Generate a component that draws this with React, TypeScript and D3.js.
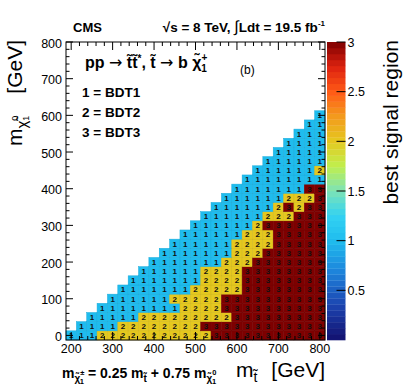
import React, { useEffect, useRef } from 'react';
import * as d3 from 'd3';

// scan grid [GeV]
const stopMasses = [
  200, 225, 250, 275, 300, 325, 350, 375, 400, 425, 450, 475, 500, 525, 550,
  575, 600, 625, 650, 675, 700, 725, 750, 775, 800,
];
const lspMasses = [
  0, 25, 50, 75, 100, 125, 150, 175, 200, 225, 250, 275, 300, 325, 350, 375,
  400, 425, 450, 475, 500, 525, 550, 575, 600,
];

// best BDT per LSP row (bottom row first); each row runs from the diagonal to m_stop = 800
const bestRegion = [
  '111 22222222222 33333333333',
  '1111 22222222 333333333333',
  '11111 222222222 333333333',
  '11111111 2222 3333333333',
  '111111 22222 3333333333',
  '1111111 22222 33333333',
  '1111111 2222 33333333',
  '111111 2222 33333333',
  '1111111 222 3333333',
  '1111111 222 333333',
  '111111 2222 33333',
  '111111 222 33333',
  '111111 2 333333',
  '111111 222 333',
  '111111 23233',
  '111111 2223',
  '1111111 33',
  '11111111',
  '111111 2',
  '111111',
  '11111',
  '1111',
  '111',
  '11',
  '1',
];

const xTicks = [200, 300, 400, 500, 600, 700, 800];
const yTicks = [0, 100, 200, 300, 400, 500, 600, 700, 800];
const zTicks = [0.5, 1, 1.5, 2, 2.5, 3];
const legendLines = ['1 = BDT1', '2 = BDT2', '3 = BDT3'];

// ROOT-like rainbow palette
const paletteStops = [0, 0.35, 0.7, 1.0, 1.25, 1.5, 1.75, 2.0, 2.25, 2.5, 2.75, 3.0];
const paletteColors = [
  '#120f6e', '#1c44b0', '#1d86dc', '#1fbcee', '#33d2f2', '#7de3b6',
  '#c0ef4e', '#e5c81f', '#f39a1d', '#ff5a16', '#dd2210', '#7e0000',
];

const FONT = "'Liberation Sans', Arial, Helvetica, sans-serif";
const ARROW = '<tspan font-family="DejaVu Sans" font-weight="normal">→</tspan>';

const App = () => {
  const ref = useRef<SVGSVGElement>(null);
  const width = 407;
  const height = 391;
  const frame = { left: 66, right: 325, top: 42, bottom: 340 };

  useEffect(() => {
    const svg = d3.select(ref.current);
    svg.selectAll('*').remove();

    const half = (stopMasses[1] - stopMasses[0]) / 2;
    const x = d3
      .scaleLinear()
      .domain([stopMasses[0] - half, stopMasses[stopMasses.length - 1] + half])
      .range([frame.left, frame.right]);
    const y = d3
      .scaleLinear()
      .domain([lspMasses[0] - half, 800])
      .range([frame.bottom, frame.top]);
    const z = d3.scaleLinear().domain([0, 3]).range([frame.bottom, frame.top]);
    const pal = d3
      .scaleLinear<string>()
      .domain(paletteStops)
      .range(paletteColors)
      .interpolate(d3.interpolateRgb)
      .clamp(true);

    svg.append('rect').attr('width', width).attr('height', height).attr('fill', '#fff');

    // cells
    const cells = bestRegion.flatMap((row, r) => {
      const s = row.replace(/ /g, '');
      const off = stopMasses.length - s.length;
      return s.split('').map((ch, k) => ({
        mStop: stopMasses[off + k],
        mLsp: lspMasses[r],
        v: +ch,
      }));
    });

    const g = svg.append('g');
    cells.forEach((d) => {
      const fill = pal(d.v);
      g.append('rect')
        .attr('x', x(d.mStop - half))
        .attr('y', y(d.mLsp + half))
        .attr('width', x(d.mStop + half) - x(d.mStop - half))
        .attr('height', y(d.mLsp - half) - y(d.mLsp + half))
        .attr('fill', fill)
        .attr('stroke', d3.color(fill)!.darker(0.25).toString())
        .attr('stroke-width', 0.5);
    });
    cells.forEach((d) => {
      g.append('text')
        .attr('x', x(d.mStop))
        .attr('y', y(d.mLsp))
        .attr('dy', '0.36em')
        .attr('text-anchor', 'middle')
        .attr('font-family', FONT)
        .attr('font-weight', 'bold')
        .attr('font-size', 8)
        .attr('fill', '#111')
        .text(d.v);
    });

    // frame and ticks
    const ax = svg.append('g').attr('stroke', '#000').attr('stroke-width', 1);
    ax.append('rect')
      .attr('x', frame.left)
      .attr('y', frame.top)
      .attr('width', frame.right - frame.left)
      .attr('height', frame.bottom - frame.top)
      .attr('fill', 'none');

    const xMinor = d3.range(200, 801, 20);
    xMinor.forEach((v) => {
      const len = v % 100 === 0 ? 8 : 4;
      const px = x(v);
      ax.append('line').attr('x1', px).attr('x2', px).attr('y1', frame.bottom).attr('y2', frame.bottom - len);
      ax.append('line').attr('x1', px).attr('x2', px).attr('y1', frame.top).attr('y2', frame.top + len);
    });
    const yMinor = d3.range(0, 801, 20);
    yMinor.forEach((v) => {
      const len = v % 100 === 0 ? 7 : 3.5;
      const py = y(v);
      ax.append('line').attr('x1', frame.left).attr('x2', frame.left + len).attr('y1', py).attr('y2', py);
      ax.append('line').attr('x1', frame.right).attr('x2', frame.right - len).attr('y1', py).attr('y2', py);
    });

    const tickText = (sel: any) =>
      sel.attr('font-family', FONT).attr('font-size', 12.5).attr('fill', '#000');

    xTicks.forEach((v) => {
      tickText(svg.append('text'))
        .attr('x', x(v))
        .attr('y', 353)
        .attr('text-anchor', 'middle')
        .text(v);
    });
    yTicks.forEach((v) => {
      tickText(svg.append('text'))
        .attr('x', 62)
        .attr('y', y(v) + 1)
        .attr('dy', '0.36em')
        .attr('text-anchor', 'end')
        .text(v);
    });

    // palette
    const nColors = 50;
    const step = 3 / nColors;
    const pg = svg.append('g');
    d3.range(nColors).forEach((i) => {
      pg.append('rect')
        .attr('x', 327)
        .attr('y', z((i + 1) * step))
        .attr('width', 18.5)
        .attr('height', z(i * step) - z((i + 1) * step) + 0.3)
        .attr('fill', pal((i + 0.5) * step));
    });
    zTicks.forEach((v) => {
      pg.append('line')
        .attr('x1', 345.5)
        .attr('x2', 336.5)
        .attr('y1', z(v))
        .attr('y2', z(v))
        .attr('stroke', '#000');
      tickText(pg.append('text'))
        .attr('x', 347.5)
        .attr('y', z(v))
        .attr('dy', '0.36em')
        .text(v);
    });

    // titles
    svg.append('text')
      .attr('transform', 'translate(22,40) rotate(-90)')
      .attr('text-anchor', 'end')
      .attr('font-family', FONT)
      .attr('font-size', 21)
      .html(
        'm<tspan font-size="15" dy="5">χ̃</tspan><tspan font-size="9" dy="-9">0</tspan><tspan font-size="9" dx="-5" dy="11">1</tspan><tspan dx="22" dy="-7">[GeV]</tspan>'
      );
    svg.append('text')
      .attr('x', frame.right)
      .attr('y', 377)
      .attr('text-anchor', 'end')
      .attr('font-family', FONT)
      .attr('font-size', 21)
      .html('m<tspan font-size="14" dy="5">t̃</tspan><tspan dx="14" dy="-5">[GeV]</tspan>');
    svg.append('text')
      .attr('transform', 'translate(398,40) rotate(-90)')
      .attr('text-anchor', 'end')
      .attr('font-family', FONT)
      .attr('font-size', 21)
      .text('best signal region');

    // header
    svg.append('text')
      .attr('x', 73)
      .attr('y', 32)
      .attr('font-family', FONT)
      .attr('font-weight', 'bold')
      .attr('font-size', 13)
      .text('CMS');
    svg.append('text')
      .attr('x', frame.right)
      .attr('y', 32)
      .attr('text-anchor', 'end')
      .attr('font-family', FONT)
      .attr('font-weight', 'bold')
      .attr('font-size', 13.5)
      .html('√s = 8 TeV, <tspan font-size="16" font-weight="normal">∫</tspan>Ldt = 19.5 fb<tspan font-size="8" dy="-6">-1</tspan>');

    // process and legend
    svg.append('text')
      .attr('x', 85)
      .attr('y', 68)
      .attr('font-family', FONT)
      .attr('font-weight', 'bold')
      .attr('font-size', 16)
      .html(
        `pp ${ARROW} t̃t̃<tspan font-size="10" dy="-6">*</tspan><tspan dy="6">, t̃ </tspan>${ARROW} b χ̃<tspan font-size="10" dy="-7">+</tspan><tspan font-size="10" dx="-6" dy="11">1</tspan>`
      );
    svg.append('text')
      .attr('x', 240)
      .attr('y', 74)
      .attr('font-family', FONT)
      .attr('font-size', 12)
      .text('(b)');
    legendLines.forEach((t, i) => {
      svg.append('text')
        .attr('x', 82)
        .attr('y', 97 + i * 20)
        .attr('font-family', FONT)
        .attr('font-weight', 'bold')
        .attr('font-size', 13.5)
        .text(t);
    });

    // mass relation
    svg.append('text')
      .attr('x', 62)
      .attr('y', 378)
      .attr('font-family', FONT)
      .attr('font-weight', 'bold')
      .attr('font-size', 14)
      .html(
        'm<tspan font-size="10" dy="4">χ̃</tspan><tspan font-size="7.5" dy="-7">±</tspan><tspan font-size="7.5" dx="-4.5" dy="9">1</tspan>' +
          '<tspan dy="-6"> = 0.25 m</tspan><tspan font-size="10" dy="4">t̃</tspan>' +
          '<tspan dy="-4"> + 0.75 m</tspan><tspan font-size="10" dy="4">χ̃</tspan><tspan font-size="7.5" dy="-7">0</tspan><tspan font-size="7.5" dx="-4.5" dy="9">1</tspan>'
      );
  }, []);

  return (
    <svg
      ref={ref}
      width={width}
      height={height}
      style={{ position: 'absolute', left: 0, top: 0 }}
    ></svg>
  );
};

export default App;
